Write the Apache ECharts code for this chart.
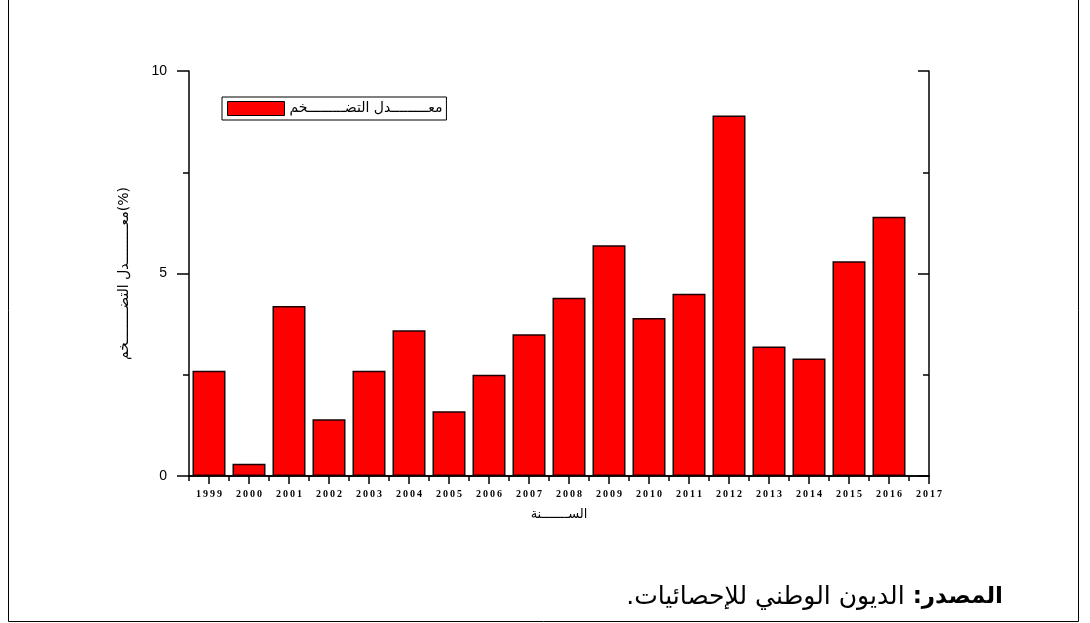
<!DOCTYPE html>
<html><head><meta charset="utf-8">
<script src="https://cdn.jsdelivr.net/npm/echarts@6/dist/echarts.min.js"></script>
<style>html,body{margin:0;padding:0;background:#fff}#c{width:1090px;height:623px}</style>
</head><body><div id="c"></div>
<script>
const years = [1999,2000,2001,2002,2003,2004,2005,2006,2007,2008,2009,2010,2011,2012,2013,2014,2015,2016];
const inflation = [2.6,0.3,4.2,1.4,2.6,3.6,1.6,2.5,3.5,4.4,5.7,3.9,4.5,8.9,3.2,2.9,5.3,6.4];
const xTickYears = [1999,2000,2001,2002,2003,2004,2005,2006,2007,2008,2009,2010,2011,2012,2013,2014,2015,2016,2017];
const xMinorTicks = [1998.5,1999.5,2000.5,2001.5,2002.5,2003.5,2004.5,2005.5,2006.5,2007.5,2008.5,2009.5,2010.5,2011.5,2012.5,2013.5,2014.5,2015.5,2016.5];
const yTickLabels = [0,5,10];
const yMinorTicks = [2.5,7.5];
const RLM = '\u200F';
const seriesName = 'معـــــــــدل التضـــــــــخم';
const xName = 'الســـــــنة';
const yName = 'معـــــــــدل التضــــــــخم(%)';
const sourceBold = 'المصدر:' + RLM;
const sourceText = 'الديون الوطني للإحصائيات.' + RLM;

const chart = echarts.init(document.getElementById('c'), null, {renderer:'canvas'});
const gridBox = {left:189, right:161, top:71, bottom:147};
const black = '#000';
const line = {lineStyle:{color:black, width:1.5}};
const arabic = 'DejaVu Sans';

chart.setOption({
  animation:false,
  backgroundColor:'#fff',
  grid:[Object.assign({}, gridBox), Object.assign({}, gridBox)],
  legend:{
    left:222, top:97, orient:'horizontal',
    padding:[4,4,4,5],
    borderColor:black, borderWidth:1, borderRadius:0,
    itemWidth:57, itemHeight:14, icon:'rect',
    itemStyle:{borderColor:black, borderWidth:1},
    textStyle:{fontSize:14, fontFamily:arabic, color:black},
    data:[seriesName]
  },
  xAxis:[
    {gridIndex:0, type:'value', position:'bottom', min:1998.5, max:2017,
     axisLine:Object.assign({show:true}, line),
     axisTick:Object.assign({show:true, customValues:xTickYears, length:8}, line),
     axisLabel:{customValues:xTickYears, formatter:v=>String(v).split('').join('\u2009'),
       fontFamily:'Liberation Serif', fontWeight:'bold', fontSize:10, margin:13, color:black},
     splitLine:{show:false},
     name:xName, nameLocation:'middle', nameGap:32,
     nameTextStyle:{fontSize:13, fontFamily:arabic, color:black}},
    {gridIndex:0, type:'value', position:'top', min:1998.5, max:2017,
     axisLine:Object.assign({show:true}, line),
     axisTick:Object.assign({show:true, inside:true, customValues:xTickYears, length:8}, line),
     axisLabel:{show:false}, splitLine:{show:false}},
    {gridIndex:1, type:'value', position:'bottom', min:1998.5, max:2017,
     axisLine:{show:false},
     axisTick:Object.assign({show:true, customValues:xMinorTicks, length:5}, line),
     axisLabel:{show:false}, splitLine:{show:false}},
    {gridIndex:1, type:'value', position:'top', min:1998.5, max:2017,
     axisLine:{show:false},
     axisTick:Object.assign({show:true, inside:true, customValues:xMinorTicks, length:5}, line),
     axisLabel:{show:false}, splitLine:{show:false}}
  ],
  yAxis:[
    {gridIndex:0, type:'value', position:'left', min:0, max:10,
     axisLine:Object.assign({show:true}, line),
     axisTick:Object.assign({show:true, customValues:yTickLabels, length:12}, line),
     axisLabel:{customValues:yTickLabels, fontFamily:'Liberation Sans', fontSize:14, margin:22, color:black},
     splitLine:{show:false},
     name:yName, nameLocation:'middle', nameGap:58, nameRotate:90,
     nameTextStyle:{fontSize:14, fontFamily:arabic, color:black}},
    {gridIndex:0, type:'value', position:'right', min:0, max:10,
     axisLine:Object.assign({show:true}, line),
     axisTick:Object.assign({show:true, inside:true, customValues:yTickLabels, length:11}, line),
     axisLabel:{show:false}, splitLine:{show:false}},
    {gridIndex:1, type:'value', position:'left', min:0, max:10,
     axisLine:{show:false},
     axisTick:Object.assign({show:true, customValues:yMinorTicks, length:6}, line),
     axisLabel:{show:false}, splitLine:{show:false}},
    {gridIndex:1, type:'value', position:'right', min:0, max:10,
     axisLine:{show:false},
     axisTick:Object.assign({show:true, inside:true, customValues:yMinorTicks, length:6}, line),
     axisLabel:{show:false}, splitLine:{show:false}}
  ],
  series:[{
    name:seriesName, type:'bar', xAxisIndex:0, yAxisIndex:0,
    barWidth:33,
    data:years.map((y,i)=>[y, inflation[i]]),
    itemStyle:{color:'#ff0000', borderColor:'#1a0000', borderWidth:1.5}
  }],
  graphic:[
    {type:'polyline', silent:true, z:100,
     shape:{points:[[8.5,0],[8.5,621.5],[1078.5,621.5],[1078.5,0]]},
     style:{stroke:black, lineWidth:1, fill:null}},
    {type:'text', silent:true, z:100, x:1003, y:597,
     style:{text:'{r|'+sourceText+'}{g| }{b|'+sourceBold+'}', align:'right', verticalAlign:'middle',
       fill:black,
       rich:{
         r:{fontSize:25, fontFamily:arabic, fill:black},
         g:{fontSize:25, fontFamily:arabic, width:8},
         b:{fontSize:23, fontFamily:arabic, fontWeight:'bold', fill:black}
       }}}
  ]
});
</script>
</body></html>
